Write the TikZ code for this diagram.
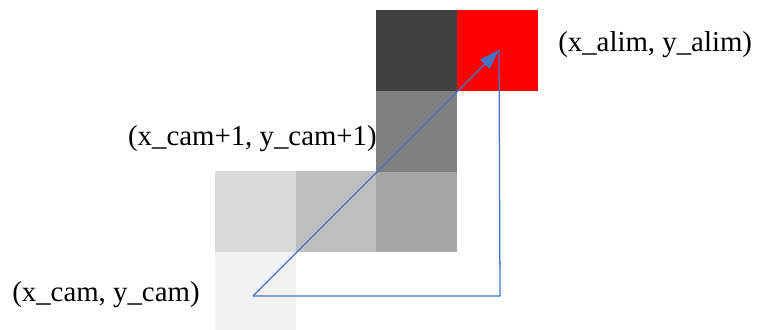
\documentclass[tikz,border=0pt]{standalone}
\usepackage{fontspec}
\setmainfont{Liberation Serif}
\usetikzlibrary{arrows.meta, positioning}
\definecolor{cellA}{RGB}{242,242,242}
\definecolor{cellB}{RGB}{217,217,217}
\definecolor{cellC}{RGB}{191,191,191}
\definecolor{cellD}{RGB}{166,166,166}
\definecolor{cellE}{RGB}{128,128,128}
\definecolor{cellF}{RGB}{64,64,64}
\definecolor{alimred}{RGB}{255,0,0}
\definecolor{pathblue}{RGB}{68,114,196}

\begin{document}
\begin{tikzpicture}[x=0.025cm, y=-0.025cm,
        cell/.style={minimum size=2.02cm, inner sep=0pt, outer sep=0pt, draw=none},
        lbl/.style={inner sep=0pt, font=\fontsize{20.5}{24}\selectfont},
        route/.style={pathblue, line width=0.9pt},
      ]
      \useasboundingbox (0,0) rectangle (760,329);
      \begin{scope}
        \clip (0,0) rectangle (760,329);
        \node[cell, fill=cellA] (c1) at (255.4,292.5) {};
      \end{scope}
      \node[cell, fill=cellB] (c2) at (255.4,211.8) {};
      \node[cell, fill=cellC] (c3) at (336.1,211.8) {};
      \node[cell, fill=cellD] (c4) at (416.8,211.8) {};
      \node[cell, fill=cellE] (c5) at (416.8,131.1) {};
      \node[cell, fill=cellF] (c6) at (416.8,50.4) {};
      \node[cell, fill=alimred] (c7) at (497.5,50.4) {};
      \coordinate (cam) at (253,296);
      \coordinate (alim) at (499,50);
      \coordinate (corner) at (500,296);
      \draw[route] (alim) -- (corner) -- (cam);
      \draw[route, -{Triangle[length=0.5cm, width=0.32cm]}] (cam) -- (alim);
      \node[lbl, anchor=west] (lalim) at (558,45) {(x\_alim, y\_alim)};
      \node[lbl, anchor=east] (lnext) at (377,139) {(x\_cam+1, y\_cam+1)};
      \node[lbl, anchor=west] (lcam) at (12,295) {(x\_cam, y\_cam)};
    \end{tikzpicture}
\end{document}
